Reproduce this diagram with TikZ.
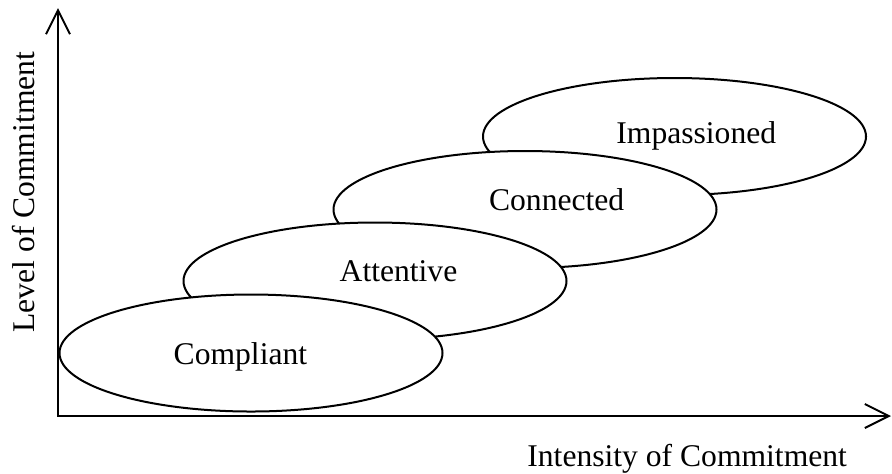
\documentclass[tikz,border=0pt]{standalone}
\usepackage{fontspec}
\setmainfont{Liberation Serif}
\usepackage{tikz}
\usetikzlibrary{arrows.meta,shapes.geometric,positioning}

\begin{document}
\begin{tikzpicture}[x=0.5pt,y=-0.5pt,
axis/.style={line width=1pt, {Straight Barb[length=12pt,width=12pt]}-{Straight Barb[length=12pt,width=12pt]}},
level/.style={ellipse, draw=black, fill=white, line width=1pt, inner sep=0pt,
    minimum width=191.5pt, minimum height=58.5pt},
caption/.style={anchor=base west, inner sep=0pt},
every node/.style={font=\fontsize{15.8}{19}\selectfont}]
\useasboundingbox (0,0) rectangle (892,473);
\coordinate (origin) at (58,416);
\coordinate (ytop) at (58,8);
\coordinate (xend) at (891,416);
\draw[axis] (ytop) -- (origin) -- (xend);
\node (impassioned) [level] at (674.5,136.5) {};
\node (connected) [level] at (525,209.5) {};
\node (attentive) [level] at (375,281) {};
\node (compliant) [level] at (251,353) {};
\node (timp) [caption] at (616,143.5) {Impassioned};
\node (tcon) [caption] at (488.7,210.7) {Connected};
\node (tatt) [caption] at (339.3,281.7) {Attentive};
\node (tcom) [caption] at (173.3,364) {Compliant};
\node (xlabel) [caption] at (527,466.7) {Intensity of Commitment};
\node (ylabel) [caption, rotate=90] at (34.3,333) {Level of Commitment};
\end{tikzpicture}
\end{document}
